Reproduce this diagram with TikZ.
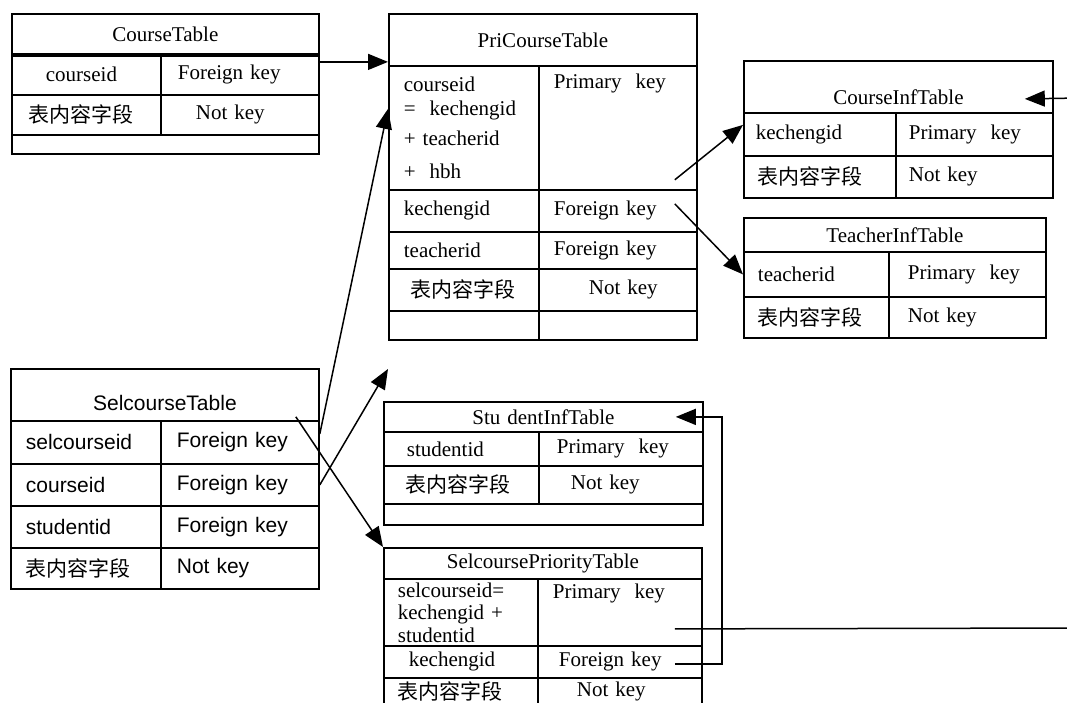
\documentclass[tikz,border=0pt]{standalone}
\usepackage{fontspec}
\setmainfont{Liberation Serif}
\setsansfont{Liberation Sans}
\newfontfamily\cjk{Noto Sans CJK SC}
\newcommand{\fld}{{\cjk 表内容字段}}
\usetikzlibrary{arrows.meta}

\begin{document}
\begin{tikzpicture}[>={Triangle[width=16pt,length=20pt]}, cell/.style={draw, line width=1.8pt, inner sep=0pt, anchor=north west, align=left}, tabhead/.style={cell, align=center}, sans/.style={font=\sffamily\fontsize{21}{23}\selectfont}, link/.style={->, line width=1.5pt}, font=\fontsize{21}{23}\selectfont]
  \useasboundingbox (0pt, 0pt) rectangle (1067pt, -703pt);
  \clip (0pt, 0pt) rectangle (1067pt, -703pt);
  % CourseTable
  \draw (11pt, -13pt)node[tabhead, text width=307pt, minimum height=40pt](ct0){CourseTable};
  \draw (11pt, -53pt)node[cell, text width=149pt, minimum height=41pt](ct1){\hspace*{34pt}courseid};
  \draw (160pt, -53pt)node[cell, text width=158pt, minimum height=41pt](ct2){\hspace*{17pt}Foreign key};
  \draw (11pt, -94pt)node[cell, text width=149pt, minimum height=40pt](ct3){\hspace*{17pt}\fld};
  \draw (160pt, -94pt)node[cell, text width=158pt, minimum height=40pt](ct4){\hspace*{35pt}Not key};
  \draw (11pt, -134pt)node[cell, text width=307pt, minimum height=19pt](ct5){};
  \draw[line width=3.5pt] (ct0.south west) -- (ct0.south east);
  % PriCourseTable
  \draw (388pt, -13pt)node[tabhead, text width=308pt, minimum height=52pt](p0){PriCourseTable};
  \draw (388pt, -65pt)node[cell, text width=150pt, minimum height=124pt](p1){\hspace*{15pt}courseid\\[1pt]\hspace*{15pt}=~~kechengid\\[7pt]\hspace*{15pt}+ teacherid\\[10pt]\hspace*{15pt}+~~hbh};
  \draw (538pt, -65pt)node[cell, text width=158pt, text height=23pt, text depth=101pt](p2){\hspace*{15pt}Primary~~key};
  \draw (388pt, -189pt)node[cell, text width=150pt, minimum height=42pt](p3){\hspace*{15pt}kechengid};
  \draw (538pt, -189pt)node[cell, text width=158pt, minimum height=42pt](p4){\hspace*{15pt}Foreign key};
  \draw (388pt, -231pt)node[cell, text width=150pt, minimum height=37pt](p5){\hspace*{15pt}teacherid};
  \draw (538pt, -231pt)node[cell, text width=158pt, minimum height=37pt](p6){\hspace*{15pt}Foreign key};
  \draw (388pt, -268pt)node[cell, text width=150pt, minimum height=42pt](p7){\hspace*{22pt}\fld};
  \draw (538pt, -268pt)node[cell, text width=158pt, minimum height=42pt](p8){\hspace*{50pt}Not key};
  \draw (388pt, -310pt)node[cell, text width=150pt, minimum height=29pt](p9){};
  \draw (538pt, -310pt)node[cell, text width=158pt, minimum height=29pt](p10){};
  % CourseInfTable
  \draw (743pt, -60pt)node[tabhead, text width=309pt, text height=44pt, text depth=8pt](c0){CourseInfTable};
  \draw (743pt, -112pt)node[cell, text width=152pt, minimum height=43pt](c1){\hspace*{12pt}kechengid};
  \draw (895pt, -112pt)node[cell, text width=157pt, minimum height=43pt](c2){\hspace*{13pt}Primary~~key};
  \draw (743pt, -155pt)node[cell, text width=152pt, minimum height=42pt](c3){\hspace*{14pt}\fld};
  \draw (895pt, -155pt)node[cell, text width=157pt, minimum height=42pt](c4){\hspace*{13pt}Not key};
  % TeacherInfTable
  \draw (743pt, -217pt)node[tabhead, text width=302pt, minimum height=34pt](t0){TeacherInfTable};
  \draw (743pt, -251pt)node[cell, text width=145pt, minimum height=45pt](t1){\hspace*{14pt}teacherid};
  \draw (888pt, -251pt)node[cell, text width=157pt, minimum height=45pt](t2){\hspace*{19pt}Primary~~key};
  \draw (743pt, -296pt)node[cell, text width=145pt, minimum height=41pt](t3){\hspace*{14pt}\fld};
  \draw (888pt, -296pt)node[cell, text width=157pt, minimum height=41pt](t4){\hspace*{19pt}Not key};
  % SelcourseTable
  \draw (10pt, -368pt)node[tabhead, sans, text width=308pt, text height=42pt, text depth=10pt](s0){SelcourseTable};
  \draw (10pt, -420pt)node[cell, sans, text width=150pt, minimum height=43pt](s1){\hspace*{15pt}selcourseid};
  \draw (160pt, -420pt)node[cell, sans, text width=158pt, minimum height=43pt](s2){\hspace*{16pt}Foreign key};
  \draw (10pt, -463pt)node[cell, sans, text width=150pt, minimum height=42pt](s3){\hspace*{15pt}courseid};
  \draw (160pt, -463pt)node[cell, sans, text width=158pt, minimum height=42pt](s4){\hspace*{16pt}Foreign key};
  \draw (10pt, -505pt)node[cell, sans, text width=150pt, minimum height=42pt](s5){\hspace*{15pt}studentid};
  \draw (160pt, -505pt)node[cell, sans, text width=158pt, minimum height=42pt](s6){\hspace*{16pt}Foreign key};
  \draw (10pt, -547pt)node[cell, sans, text width=150pt, minimum height=41pt](s7){\hspace*{15pt}\fld};
  \draw (160pt, -547pt)node[cell, sans, text width=158pt, minimum height=41pt](s8){\hspace*{16pt}Not key};
  % StudentInfTable
  \draw (383pt, -401pt)node[tabhead, text width=319pt, minimum height=30pt](u0){Stu dentInfTable};
  \draw (383pt, -431pt)node[cell, text width=155pt, minimum height=34pt](u1){\hspace*{23pt}studentid};
  \draw (538pt, -431pt)node[cell, text width=164pt, minimum height=34pt](u2){\hspace*{18pt}Primary~~key};
  \draw (383pt, -465pt)node[cell, text width=155pt, minimum height=38pt](u3){\hspace*{22pt}\fld};
  \draw (538pt, -465pt)node[cell, text width=164pt, minimum height=38pt](u4){\hspace*{32pt}Not key};
  \draw (383pt, -503pt)node[cell, text width=319pt, minimum height=21pt](u5){};
  % SelcoursePriorityTable
  \draw (383pt, -547pt)node[tabhead, text width=318pt, minimum height=31pt](v0){SelcoursePriorityTable};
  \draw (383pt, -578pt)node[cell, text width=154pt, minimum height=67pt](v1){\hspace*{14pt}selcourseid=\\[-0.5pt]\hspace*{14pt}kechengid +\\[-0.5pt]\hspace*{14pt}studentid};
  \draw (537pt, -578pt)node[cell, text width=164pt, text height=20pt, text depth=47pt](v2){\hspace*{15pt}Primary~~key};
  \draw (383pt, -645pt)node[cell, text width=154pt, minimum height=32pt](v3){\hspace*{25pt}kechengid};
  \draw (537pt, -645pt)node[cell, text width=164pt, minimum height=32pt](v4){\hspace*{21pt}Foreign key};
  \draw (383pt, -677pt)node[cell, text width=154pt, minimum height=28pt](v5){\hspace*{14pt}\fld};
  \draw (537pt, -677pt)node[cell, text width=164pt, minimum height=28pt](v6){\hspace*{39pt}Not key};
  % free ends
  \coordinate (a3) at (388pt, -369pt);
  \coordinate (o1) at (1080pt, -628pt);
  \coordinate (o2) at (1080pt, -98pt);
  % links
  \path[link] ([yshift=12.5pt]ct2.east) edge ([yshift=-22pt]p0.west);
  \path[link] ([yshift=8.5pt]s2.east) edge ([yshift=19pt]p1.west);
  \path[link] (s4.east) edge (a3);
  \path[link] ([xshift=-24pt, yshift=5pt]s0.south east) edge (v0.north west);
  \path[link] ([xshift=-23pt, yshift=11pt]p2.south east) edge ([yshift=9.5pt]c1.west);
  \path[link] ([xshift=-23pt, yshift=7pt]p4.east) edge (t1.west);
  \draw[link] ([xshift=-28pt, yshift=-2pt]v4.east) -- ++(47pt, 0pt) |- ([xshift=-28pt]u0.east);
  \draw[line width=1.5pt] ([xshift=-28pt, yshift=-16.5pt]v2.east) -- (o1);
  \path[link] (o2) edge ([xshift=-29pt, yshift=-12pt]c0.east);
\end{tikzpicture}
\end{document}
